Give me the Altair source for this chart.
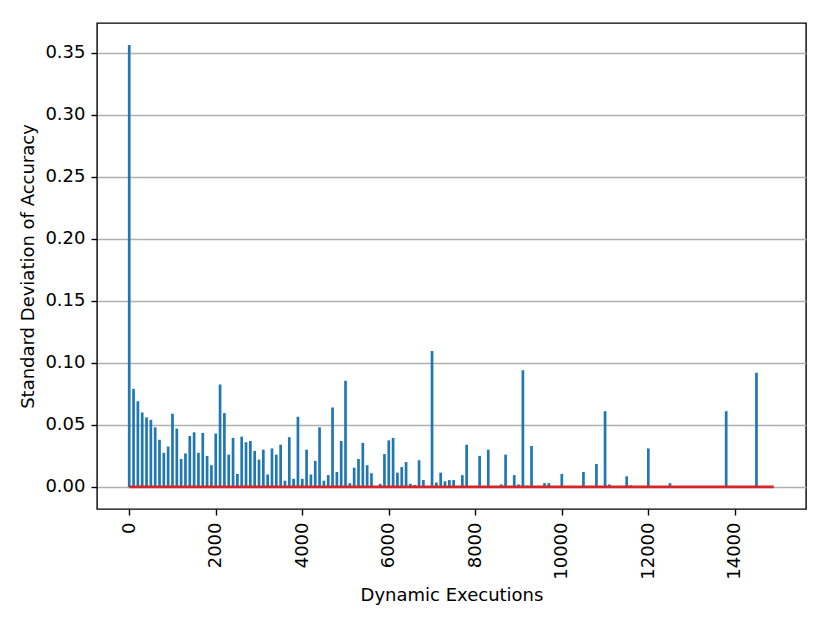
import altair as alt
import pandas as pd

# x positions: dynamic execution counts (every 100)
executions = list(range(0, 15000, 100))

# standard deviation of accuracy (index = executions/100)
std_acc = [
    0.356, 0.079, 0.069, 0.060, 0.056, 0.054, 0.048, 0.038, 0.0275, 0.0325,   # 0-900
    0.059, 0.047, 0.0225, 0.027, 0.041, 0.044, 0.0275, 0.0435, 0.025, 0.0175, # 1000-1900
    0.043, 0.0825, 0.0595, 0.026, 0.0395, 0.0105, 0.0405, 0.036, 0.037, 0.029,# 2000-2900
    0.022, 0.030, 0.010, 0.031, 0.026, 0.034, 0.005, 0.040, 0.0065, 0.0565,   # 3000-3900
    0.0065, 0.030, 0.010, 0.021, 0.048, 0.005, 0.0095, 0.064, 0.012, 0.037,   # 4000-4900
    0.0855, 0.003, 0.0155, 0.0225, 0.0355, 0.0175, 0.011, 0.0, 0.0025, 0.0265,# 5000-5900
    0.0375, 0.0395, 0.0115, 0.016, 0.020, 0.0025, 0.0015, 0.0215, 0.0055, 0.0,# 6000-6900
    0.1095, 0.0035, 0.0115, 0.0045, 0.0055, 0.0055, 0.0, 0.0095, 0.034, 0.0,  # 7000-7900
    0.0, 0.025, 0.0, 0.030, 0.0, 0.0, 0.002, 0.026, 0.0, 0.0095,              # 8000-8900
    0.002, 0.094, 0.001, 0.033, 0.0, 0.0, 0.003, 0.003, 0.0, 0.0,             # 9000-9900
    0.0105, 0.0, 0.0, 0.0, 0.0005, 0.012, 0.0, 0.0, 0.0185, 0.0005,           # 10000-10900
    0.061, 0.002, 0.0, 0.0005, 0.0, 0.0085, 0.0013, 0.0, 0.0005, 0.0,         # 11000-11900
    0.031, 0.0, 0.0, 0.0, 0.0, 0.003, 0.0, 0.0, 0.0, 0.0,                     # 12000-12900
    0.0, 0.0, 0.0, 0.0, 0.0, 0.0, 0.0, 0.0, 0.061, 0.0,                       # 13000-13900
    0.0, 0.0, 0.0005, 0.0, 0.0, 0.092, 0.0, 0.0, 0.0, 0.0,                    # 14000-14900
]

x_ticks = [0, 2000, 4000, 6000, 8000, 10000, 12000, 14000]
y_ticks = [0.0, 0.05, 0.10, 0.15, 0.20, 0.25, 0.30, 0.35]

df = pd.DataFrame({"exec": executions, "std": std_acc, "zero": [0.0] * len(executions)})
base_df = pd.DataFrame({"x0": [min(executions)], "x1": [max(executions)], "y": [0.0]})

FONT = "DejaVu Sans"
W, H = 709, 486

xscale = alt.Scale(domain=[-745, 15645], nice=False, zero=False)
yscale = alt.Scale(domain=[-0.0178, 0.3738], nice=False, zero=False)

stems = alt.Chart(df).mark_rule(color="#1f77b4", strokeWidth=2.7).encode(
    x=alt.X(
        "exec:Q",
        scale=xscale,
        axis=alt.Axis(
            values=x_ticks,
            format="d",
            title="Dynamic Executions",
            labelAngle=270,
            labelAlign="right",
            labelBaseline="middle",
            labelPadding=7,
            grid=False,
            titleX=W / 2,
            titleY=91,
            titleBaseline="alphabetic",
            titleAlign="center",
        ),
    ),
    y=alt.Y(
        "std:Q",
        scale=yscale,
        axis=alt.Axis(
            values=y_ticks,
            format=".2f",
            title="Standard Deviation of Accuracy",
            grid=True,
            gridColor="#b0b0b0",
            gridWidth=1.4,
            labelPadding=6,
            titleX=-64,
            titleY=H / 2,
            titleAngle=270,
            titleBaseline="alphabetic",
            titleAlign="center",
        ),
    ),
    y2="zero:Q",
)

baseline = alt.Chart(base_df).mark_rule(color="#d62728", strokeWidth=2.7).encode(
    x=alt.X("x0:Q", scale=xscale),
    x2="x1:Q",
    y=alt.Y("y:Q", scale=yscale),
)

chart = (
    alt.layer(stems, baseline)
    .properties(
        width=W,
        height=H,
        autosize=alt.AutoSizeParams(type="none"),
        padding={"left": 89, "top": 15, "right": 10, "bottom": 100},
    )
    .configure_view(stroke="black", strokeWidth=1.4)
    .configure_axis(
        domain=False,
        ticks=True,
        tickColor="black",
        tickSize=6,
        tickWidth=1.4,
        labelFont=FONT,
        labelFontSize=18,
        labelColor="black",
        titleFont=FONT,
        titleFontSize=18,
        titleFontWeight="normal",
        titleColor="black",
    )
)

chart.save("out.html", embed_options={"renderer": "svg", "actions": False})
